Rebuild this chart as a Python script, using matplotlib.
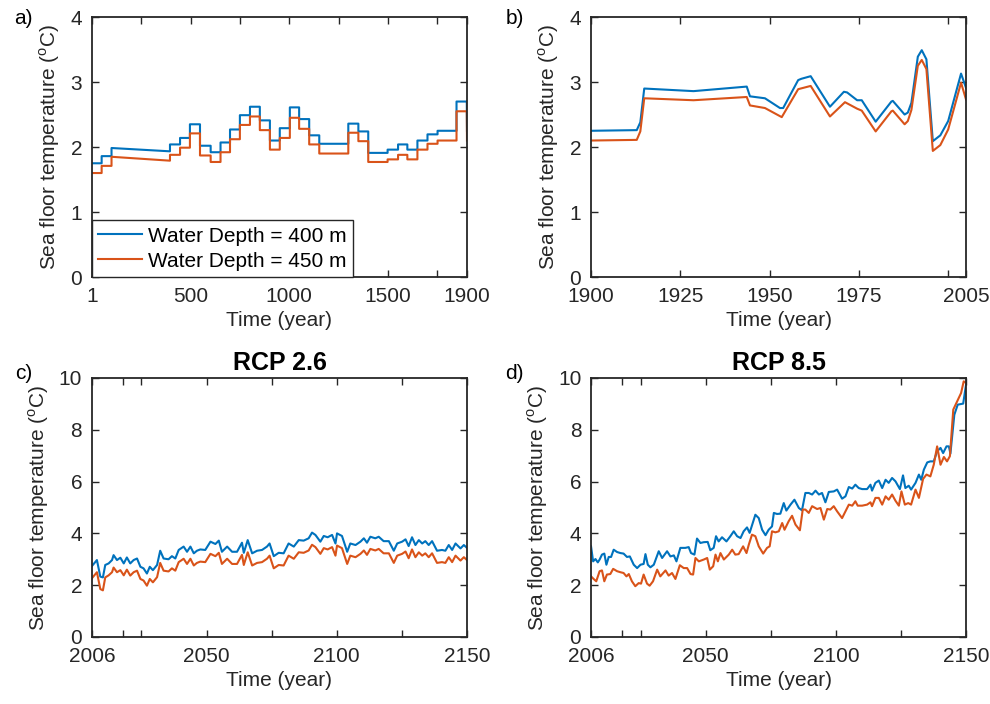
import matplotlib
matplotlib.use('Agg')
import matplotlib.pyplot as plt

plt.rcParams['font.family'] = ['Liberation Sans', 'DejaVu Sans']
plt.rcParams['mathtext.fontset'] = 'custom'
plt.rcParams['mathtext.rm'] = 'Liberation Sans'
plt.rcParams['font.size'] = 15

BLUE = '#0072BD'
ORANGE = '#D95319'
DARK = '#262626'

# a) 1 - 1900, stepwise record
a_year = [1, 50, 50, 100, 100, 396, 396, 447, 447, 497, 497, 548, 548, 602, 602, 652, 652, 700, 700, 750,
          750, 801, 801, 851, 851, 902, 902, 952, 952, 1003, 1003, 1050, 1050, 1101, 1101, 1152, 1152, 1299,
          1299, 1350, 1350, 1400, 1400, 1498, 1498, 1551, 1551, 1598, 1598, 1649, 1649, 1700, 1700, 1751,
          1751, 1847, 1847, 1899, 1900]
a_400 = [1.75, 1.75, 1.86, 1.86, 1.985, 1.934, 2.04, 2.04, 2.14, 2.14, 2.35, 2.35, 2.02, 2.02, 1.92, 1.92,
         2.07, 2.07, 2.27, 2.27, 2.49, 2.49, 2.62, 2.62, 2.41, 2.41, 2.10, 2.10, 2.29, 2.29, 2.61, 2.61,
         2.43, 2.43, 2.18, 2.18, 2.05, 2.05, 2.36, 2.36, 2.24, 2.24, 1.91, 1.91, 1.96, 1.96, 2.04, 2.04,
         1.96, 1.96, 2.10, 2.10, 2.195, 2.195, 2.25, 2.25, 2.70, 2.70, 2.25]
a_450 = [1.60, 1.60, 1.71, 1.71, 1.85, 1.79, 1.88, 1.88, 1.99, 1.99, 2.21, 2.21, 1.87, 1.87, 1.77, 1.77,
         1.92, 1.92, 2.12, 2.12, 2.34, 2.34, 2.47, 2.47, 2.26, 2.26, 1.96, 1.96, 2.14, 2.14, 2.45, 2.45,
         2.28, 2.28, 2.04, 2.04, 1.90, 1.90, 2.22, 2.22, 2.09, 2.09, 1.77, 1.77, 1.81, 1.81, 1.88, 1.88,
         1.81, 1.81, 1.96, 1.96, 2.05, 2.05, 2.10, 2.10, 2.55, 2.55, 2.10]

# b) 1900 - 2005
b_year_400 = [1900, 1912.8, 1913.8, 1914.9, 1928.7, 1943.6, 1944.5, 1948.7, 1952.9, 1953.8, 1958.0, 1958.9,
              1961.5, 1966.9, 1970.8, 1971.7, 1974.5, 1975.8, 1979.7, 1984.1, 1984.5, 1987.8, 1988.7,
              1989.7, 1991.5, 1992.6, 1993.9, 1995.7, 1997.8, 2000.0, 2003.6, 2005.0]
b_400 = [2.25, 2.26, 2.38, 2.90, 2.86, 2.93, 2.78, 2.75, 2.60, 2.60, 3.03, 3.05, 3.09, 2.62, 2.85, 2.84,
         2.72, 2.72, 2.39, 2.70, 2.71, 2.50, 2.53, 2.68, 3.39, 3.49, 3.35, 2.09, 2.18, 2.40, 3.13, 2.91]
b_year_450 = [1900, 1912.8, 1913.8, 1914.9, 1928.7, 1943.6, 1944.5, 1948.7, 1953.4, 1958.0, 1961.5, 1966.9,
              1971.1, 1974.5, 1975.8, 1979.7, 1984.1, 1984.5, 1987.8, 1988.7, 1989.7, 1991.5, 1992.6,
              1993.9, 1995.7, 1997.8, 2000.0, 2003.6, 2005.0]
b_450 = [2.10, 2.11, 2.24, 2.75, 2.72, 2.77, 2.64, 2.60, 2.46, 2.89, 2.94, 2.47, 2.69, 2.59, 2.56, 2.24,
         2.55, 2.56, 2.35, 2.40, 2.57, 3.25, 3.34, 3.20, 1.94, 2.03, 2.27, 2.99, 2.73]

# c) RCP 2.6
c_year = [2006.0, 2007.9, 2009.2, 2010.2, 2011.1, 2012.4, 2013.7, 2014.3, 2015.6, 2016.9, 2018.2, 2019.4,
          2020.7, 2022.0, 2023.3, 2024.6, 2025.8, 2027.1, 2028.2, 2029.4, 2031.0, 2032.2, 2033.5, 2035.4,
          2036.7, 2038.0, 2039.3, 2041.2, 2042.5, 2043.8, 2045.1, 2046.3, 2047.6, 2049.5, 2051.5, 2053.4,
          2054.7, 2055.9, 2057.9, 2059.8, 2061.7, 2063.6, 2064.3, 2065.8, 2067.5, 2069.4, 2071.3, 2073.2,
          2074.2, 2075.8, 2077.7, 2079.6, 2081.5, 2083.5, 2085.4, 2087.3, 2089.2, 2090.5, 2091.8, 2093.7,
          2095.0, 2096.5, 2098.2, 2099.5, 2100.1, 2102.0, 2104.0, 2105.2, 2107.2, 2109.1, 2110.4, 2111.6,
          2112.9, 2114.8, 2116.1, 2118.0, 2120.0, 2121.9, 2123.2, 2125.1, 2126.4, 2127.6, 2128.9, 2130.2,
          2131.5, 2132.8, 2134.0, 2135.3, 2136.6, 2138.5, 2140.4, 2141.7, 2143.0, 2144.3, 2145.6, 2147.5,
          2148.8, 2150.0]
c_400 = [2.74, 2.97, 2.33, 2.30, 2.78, 2.84, 2.97, 3.16, 2.97, 3.06, 2.84, 3.07, 2.84, 2.97, 3.03, 2.71,
         2.65, 2.45, 2.71, 2.58, 2.78, 3.33, 3.03, 3.00, 3.12, 3.03, 3.36, 3.49, 3.29, 3.49, 3.23, 3.33,
         3.38, 3.36, 3.68, 3.59, 3.72, 3.29, 3.49, 3.29, 3.29, 3.64, 3.25, 3.74, 3.23, 3.33, 3.36, 3.49,
         3.61, 3.12, 3.25, 3.23, 3.61, 3.49, 3.74, 3.72, 3.81, 4.03, 3.94, 3.68, 3.90, 3.85, 3.94, 3.61,
         4.00, 3.90, 3.29, 3.61, 3.55, 3.68, 3.81, 3.64, 3.87, 3.81, 3.87, 3.70, 3.70, 3.33, 3.61, 3.68,
         3.77, 3.51, 3.85, 3.55, 3.74, 3.61, 3.70, 3.55, 3.70, 3.33, 3.36, 3.33, 3.55, 3.36, 3.61, 3.42,
         3.55, 3.44]
c_450 = [2.27, 2.50, 1.85, 1.80, 2.30, 2.38, 2.50, 2.68, 2.50, 2.58, 2.38, 2.60, 2.37, 2.50, 2.56, 2.24,
         2.18, 1.98, 2.24, 2.11, 2.31, 2.86, 2.56, 2.53, 2.65, 2.56, 2.89, 3.02, 2.82, 3.02, 2.76, 2.86,
         2.91, 2.89, 3.21, 3.12, 3.25, 2.82, 3.02, 2.82, 2.82, 3.17, 2.78, 3.27, 2.76, 2.86, 2.89, 3.02,
         3.14, 2.65, 2.78, 2.76, 3.14, 3.02, 3.27, 3.25, 3.34, 3.56, 3.47, 3.21, 3.43, 3.38, 3.47, 3.14,
         3.53, 3.43, 2.82, 3.14, 3.08, 3.21, 3.34, 3.17, 3.40, 3.34, 3.40, 3.23, 3.23, 2.86, 3.14, 3.21,
         3.30, 3.04, 3.38, 3.08, 3.27, 3.14, 3.23, 3.08, 3.23, 2.86, 2.89, 2.86, 3.08, 2.89, 3.14, 2.95,
         3.08, 2.97]

# d) RCP 8.5
d_year_400 = [2006.0, 2006.8, 2007.7, 2008.6, 2009.3, 2010.2, 2011.1, 2011.9, 2012.8, 2013.7, 2014.7, 2016.0,
              2017.3, 2018.5, 2019.8, 2020.9, 2022.4, 2023.7, 2025.0, 2026.2, 2026.9, 2027.8, 2028.8, 2030.1,
              2032.0, 2033.3, 2035.2, 2036.5, 2037.8, 2038.8, 2040.3, 2042.2, 2043.5, 2044.4, 2045.7, 2046.7,
              2048.0, 2049.3, 2050.8, 2051.8, 2053.1, 2054.0, 2055.0, 2056.3, 2058.0, 2059.5, 2060.8, 2062.1,
              2063.4, 2064.6, 2065.9, 2066.9, 2069.1, 2070.4, 2071.7, 2073.0, 2074.2, 2075.5, 2076.2, 2077.4,
              2078.7, 2080.0, 2081.0, 2082.6, 2084.1, 2085.8, 2087.0, 2088.3, 2089.6, 2090.9, 2092.2, 2093.5,
              2094.7, 2096.0, 2097.3, 2099.2, 2100.5, 2102.4, 2103.7, 2105.0, 2106.3, 2107.5, 2108.8, 2110.1,
              2112.0, 2113.3, 2113.9, 2115.2, 2116.5, 2117.8, 2119.1, 2120.3, 2121.6, 2122.9, 2124.6, 2125.8,
              2126.7, 2128.0, 2128.9, 2130.6, 2131.9, 2132.8, 2133.8, 2135.1, 2136.3, 2137.6, 2138.9, 2140.2,
              2141.2, 2142.5, 2143.4, 2144.0, 2145.5, 2146.8, 2148.9, 2150.0]
d_400 = [3.50, 2.92, 3.01, 2.88, 2.99, 3.18, 3.22, 2.79, 3.09, 3.09, 3.37, 3.28, 3.24, 3.22, 3.09, 3.11,
         2.79, 2.66, 2.79, 2.82, 3.20, 2.79, 2.69, 2.79, 3.31, 3.05, 3.31, 3.11, 3.15, 2.92, 3.44, 3.44,
         3.47, 3.24, 3.18, 3.80, 3.63, 3.66, 3.67, 3.35, 3.44, 3.89, 3.69, 3.85, 3.69, 3.89, 4.08, 3.89,
         3.82, 4.08, 4.23, 4.02, 4.72, 4.59, 4.14, 3.93, 4.14, 4.27, 4.79, 4.75, 4.76, 5.17, 4.88, 5.11,
         5.30, 4.98, 4.89, 5.56, 5.56, 5.50, 5.65, 5.50, 5.56, 5.20, 5.60, 5.62, 5.69, 5.34, 5.43, 5.79,
         5.73, 5.88, 5.75, 5.71, 5.71, 5.88, 5.65, 5.95, 6.04, 5.75, 6.07, 5.95, 6.14, 6.01, 5.71, 6.24,
         5.75, 5.84, 5.69, 5.95, 6.27, 6.07, 6.46, 6.74, 6.78, 6.78, 7.17, 7.30, 7.10, 7.36, 7.36, 7.08,
         8.58, 8.97, 9.01, 9.74]
d_year_450 = [2006.0, 2007.0, 2008.0, 2009.3, 2010.2, 2011.1, 2012.1, 2013.4, 2014.5, 2016.0, 2017.3, 2018.5,
              2019.6, 2020.5, 2021.7, 2023.0, 2024.3, 2025.2, 2026.2, 2027.5, 2028.5, 2029.8, 2031.4, 2032.6,
              2034.6, 2035.8, 2037.1, 2038.4, 2040.1, 2041.6, 2042.9, 2044.2, 2045.2, 2046.1, 2047.4, 2049.3,
              2050.6, 2051.6, 2052.9, 2053.8, 2054.7, 2055.7, 2057.0, 2058.9, 2060.2, 2061.4, 2062.7, 2064.4,
              2065.7, 2066.6, 2067.8, 2069.1, 2070.4, 2072.1, 2073.6, 2074.6, 2075.5, 2076.8, 2078.1, 2079.4,
              2080.3, 2081.9, 2083.2, 2084.5, 2086.2, 2087.3, 2088.3, 2089.6, 2090.9, 2092.8, 2094.1, 2095.4,
              2096.7, 2097.9, 2099.2, 2100.5, 2102.4, 2103.7, 2105.0, 2106.3, 2107.5, 2108.4, 2110.1, 2112.0,
              2113.3, 2113.9, 2115.2, 2116.5, 2117.8, 2119.1, 2120.3, 2121.6, 2122.9, 2124.2, 2125.2, 2126.5,
              2127.8, 2128.9, 2130.6, 2131.9, 2133.5, 2134.8, 2136.3, 2137.6, 2138.9, 2140.2, 2141.5, 2142.7,
              2143.8, 2145.1, 2146.6, 2148.1, 2149.1, 2150.0]
d_450 = [2.34, 2.24, 2.15, 2.54, 2.57, 2.15, 2.41, 2.43, 2.63, 2.54, 2.50, 2.47, 2.34, 2.43, 2.15, 1.96,
         2.08, 2.06, 2.41, 2.06, 1.98, 2.15, 2.60, 2.34, 2.57, 2.37, 2.47, 2.24, 2.77, 2.66, 2.66, 2.43,
         2.41, 3.05, 2.92, 2.99, 3.05, 2.60, 2.73, 3.18, 2.92, 3.24, 2.99, 3.18, 3.37, 3.18, 3.20, 3.50,
         3.24, 3.57, 3.95, 3.89, 3.50, 3.22, 3.44, 3.50, 4.08, 4.04, 4.08, 4.40, 4.14, 4.47, 4.68, 4.34,
         4.12, 4.92, 4.92, 4.79, 5.05, 4.94, 4.98, 4.53, 4.94, 4.92, 5.05, 4.85, 4.59, 4.85, 5.11, 5.07,
         5.24, 5.07, 5.07, 5.11, 5.20, 5.05, 5.37, 5.37, 5.11, 5.43, 5.30, 5.50, 5.26, 5.07, 5.62, 5.11,
         5.17, 5.11, 5.69, 5.37, 6.10, 6.27, 6.20, 6.65, 7.36, 6.65, 6.95, 6.78, 6.98, 8.78, 9.10, 9.42,
         9.87, 9.81]

labels = ['Water Depth = 400 m', 'Water Depth = 450 m']
ylab = r'Sea floor temperature ($^{\mathrm{o}}$C)'


def style_axis(ax, xlim, ticks, ticklabels, ylim, yticks):
    ax.set_xlim(xlim)
    ax.set_ylim(ylim)
    ax.set_xticks(ticks)
    ax.set_xticklabels(ticklabels)
    ax.set_yticks(yticks)
    ax.tick_params(direction='in', top=True, right=True, length=5, width=1.0,
                   colors=DARK, labelcolor=DARK, pad=7)
    for s in ax.spines.values():
        s.set_color(DARK)
        s.set_linewidth(1.3)
    ax.set_xlabel('Time (year)', color=DARK, labelpad=4)
    ax.set_ylabel(ylab, color=DARK, labelpad=6)


fig = plt.figure(figsize=(9.9, 7.04), dpi=100)
ax_a = fig.add_axes([0.0929, 0.6065, 0.3788, 0.3693])
ax_b = fig.add_axes([0.5970, 0.6065, 0.3788, 0.3693])
ax_c = fig.add_axes([0.0929, 0.0952, 0.3788, 0.3679])
ax_d = fig.add_axes([0.5970, 0.0952, 0.3788, 0.3679])

ax_a.plot(a_year, a_400, color=BLUE, lw=1.5, label=labels[0])
ax_a.plot(a_year, a_450, color=ORANGE, lw=1.5, label=labels[1])
style_axis(ax_a, (1, 1900), [1, 250, 500, 750, 1000, 1250, 1500, 1750, 1900],
           ['1', '', '500', '', '1000', '', '1500', '', '1900'], (0, 4), [0, 1, 2, 3, 4])
leg = ax_a.legend(loc='lower left', borderaxespad=0, fancybox=False, framealpha=1,
                  edgecolor=DARK, handlelength=2.1, handletextpad=0.3, labelspacing=0.3,
                  borderpad=0.3)
leg.get_frame().set_linewidth(1.0)

ax_b.plot(b_year_400, b_400, color=BLUE, lw=1.5)
ax_b.plot(b_year_450, b_450, color=ORANGE, lw=1.5)
style_axis(ax_b, (1900, 2005), [1900, 1925, 1950, 1975, 2000, 2005],
           ['1900', '1925', '1950', '1975', '', '2005'], (0, 4), [0, 1, 2, 3, 4])

ctick = [2006, 2018, 2025, 2050, 2075, 2100, 2125, 2150]
ctlab = ['2006', '', '', '2050', '', '2100', '', '2150']

ax_c.plot(c_year, c_400, color=BLUE, lw=1.5)
ax_c.plot(c_year, c_450, color=ORANGE, lw=1.5)
style_axis(ax_c, (2006, 2150), ctick, ctlab, (0, 10), [0, 2, 4, 6, 8, 10])
ax_c.set_title('RCP 2.6', fontweight='bold', color='black', pad=6)

ax_d.plot(d_year_400, d_400, color=BLUE, lw=1.5)
ax_d.plot(d_year_450, d_450, color=ORANGE, lw=1.5)
style_axis(ax_d, (2006, 2150), ctick, ctlab, (0, 10), [0, 2, 4, 6, 8, 10])
ax_d.set_title('RCP 8.5', fontweight='bold', color='black', pad=6)

fig.text(0.024, 0.974, 'a)', ha='center', va='center')
fig.text(0.520, 0.974, 'b)', ha='center', va='center')
fig.text(0.024, 0.470, 'c)', ha='center', va='center')
fig.text(0.520, 0.470, 'd)', ha='center', va='center')

fig.savefig('out.png', dpi=100)
